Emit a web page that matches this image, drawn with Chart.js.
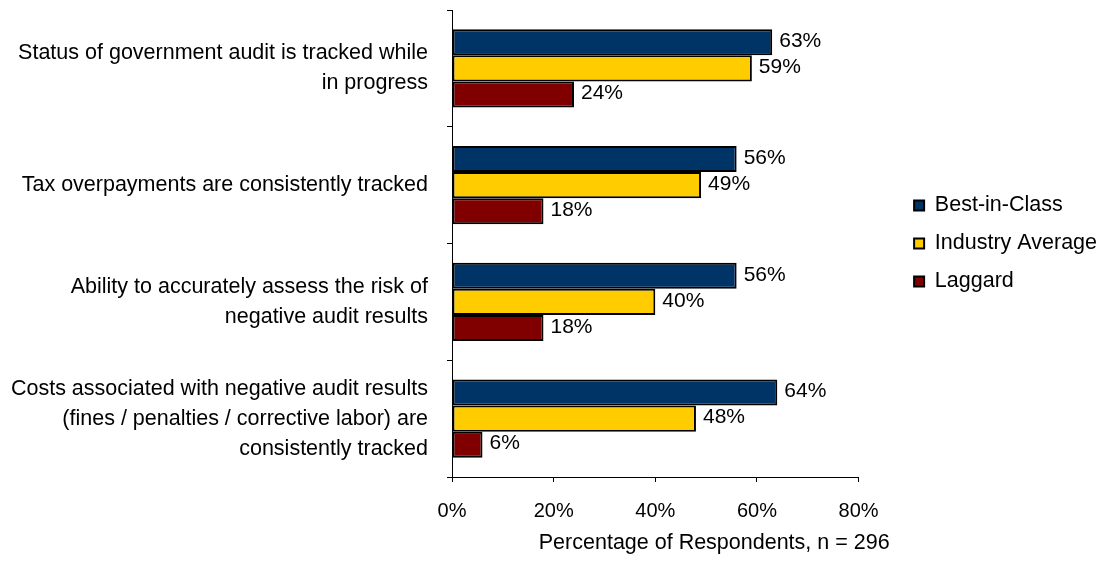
<!DOCTYPE html>
<html>
<head>
<meta charset="utf-8">
<script src="https://cdn.jsdelivr.net/npm/chart.js@4/dist/chart.umd.min.js"></script>
<style>
  html, body { margin: 0; padding: 0; background: #fff; }
  #wrap { width: 1098px; height: 563px; }
</style>
</head>
<body>
<div id="wrap"><canvas id="auditChart" width="1098" height="563"></canvas></div>
<script>
// questions, one array per wrapped label
let questions = [
    ['Status of government audit is tracked while', 'in progress'],
    ['Tax overpayments are consistently tracked'],
    ['Ability to accurately assess the risk of', 'negative audit results'],
    ['Costs associated with negative audit results', '(fines / penalties / corrective labor) are', 'consistently tracked']
];
let bestInClass = [63, 56, 56, 64];
let industryAverage = [59, 49, 40, 48];
let laggard = [24, 18, 18, 6];
let xTicks = [0, 20, 40, 60, 80];
let xTitle = 'Percentage of Respondents, n = 296';

let fontFamily = 'Arial, "Liberation Sans", sans-serif';
Chart.defaults.font.family = fontFamily;
Chart.defaults.font.size = 21.5;
Chart.defaults.color = '#000';

// writes the percentage just past the end of each bar
let valueLabels = {
    id: 'valueLabels',
    afterDatasetsDraw(chart) {
        let ctx = chart.ctx;
        ctx.save();
        ctx.font = '21px ' + fontFamily;
        ctx.fillStyle = '#000';
        ctx.textAlign = 'left';
        ctx.textBaseline = 'middle';
        chart.data.datasets.forEach((ds, i) => {
            chart.getDatasetMeta(i).data.forEach((bar, j) => {
                ctx.fillText(ds.data[j] + '%', bar.x + 7, bar.y - 1);
            });
        });
        ctx.restore();
    }
};

// axis title sits a bit right of the scale's centre
let axisTitle = {
    id: 'axisTitle',
    afterDraw(chart) {
        let x = chart.scales.x;
        let ctx = chart.ctx;
        ctx.save();
        ctx.font = '21.5px ' + fontFamily;
        ctx.fillStyle = '#000';
        ctx.textAlign = 'right';
        ctx.textBaseline = 'middle';
        ctx.fillText(xTitle, x.right + 31, x.bottom - 20);
        ctx.restore();
    }
};

// leave a gap between the plot and the legend
let legendGap = {
    id: 'legendGap',
    afterLayout(chart) {
        let leg = chart.legend;
        if (!leg) return;
        let shift = 39;
        leg.left += shift;
        leg.right += shift;
    }
};

new Chart(document.getElementById('auditChart'), {
    type: 'bar',
    data: {
        labels: questions,
        datasets: [
            { label: 'Best-in-Class', data: bestInClass, backgroundColor: '#003366' },
            { label: 'Industry Average', data: industryAverage, backgroundColor: '#FFCC00' },
            { label: 'Laggard', data: laggard, backgroundColor: '#800000' }
        ]
    },
    options: {
        indexAxis: 'y',
        responsive: false,
        animation: false,
        layout: { padding: { top: 10, left: 0, right: 30, bottom: 0 } },
        datasets: {
            bar: {
                borderColor: '#000',
                borderWidth: 2,
                borderSkipped: false,
                categoryPercentage: 0.67,
                barPercentage: 1
            }
        },
        plugins: {
            legend: {
                position: 'right',
                fullSize: false,
                labels: {
                    boxWidth: 10,
                    boxHeight: 10,
                    padding: 16.5,
                    font: { size: 21.5 },
                    color: '#000'
                }
            },
            tooltip: { enabled: false }
        },
        scales: {
            x: {
                min: 0,
                max: 80,
                afterBuildTicks: s => { s.ticks = xTicks.map(v => ({ value: v })); },
                afterFit: s => { s.height = 86; },
                ticks: {
                    callback: v => v + '%',
                    padding: 17,
                    maxRotation: 0,
                    font: { size: 20 }
                },
                grid: { drawOnChartArea: false, tickLength: 5, color: '#000' },
                border: { color: '#000', width: 1 }
            },
            y: {
                afterFit: s => {
                    s.width = 452;
                    s.paddingTop = 0;
                    s.paddingBottom = 0;
                },
                ticks: {
                    padding: 19,
                    font: { size: 21.5, lineHeight: 1.395 }
                },
                grid: { drawOnChartArea: false, tickLength: 5, color: '#000', offset: true },
                border: { color: '#000', width: 1 }
            }
        }
    },
    plugins: [valueLabels, axisTitle, legendGap]
});
</script>
</body>
</html>
